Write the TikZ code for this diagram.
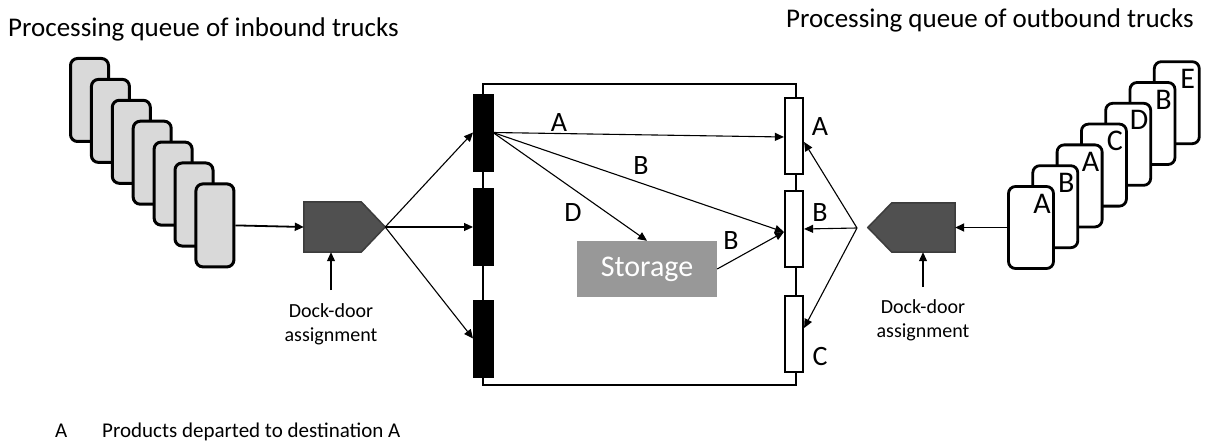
\documentclass[tikz,border=0pt]{standalone}
\usepackage{fontspec}
\setmainfont{Carlito}
\usetikzlibrary{arrows.meta,calc}
\definecolor{inTruck}{HTML}{D9D9D9}
\definecolor{pentFill}{HTML}{505050}
\definecolor{pentDraw}{HTML}{3C3C3C}
\definecolor{storeFill}{HTML}{989898}
\begin{document}
\begin{tikzpicture}[x=1pt,y=-1pt,
  intruck/.style={draw, line width=3pt, fill=inTruck, rounded corners=7pt, minimum width=38pt, minimum height=83pt, inner sep=0pt},
  outtruck/.style={draw, line width=2.8pt, fill=white, rounded corners=7pt, minimum width=45pt, minimum height=82pt, inner sep=0pt},
  indoor/.style={draw, fill=black, line width=0.5pt, minimum width=19.5pt, minimum height=77pt, inner sep=0pt},
  outdoor/.style={draw, fill=white, line width=2.2pt, minimum width=18pt, minimum height=76pt, inner sep=0pt},
  pentbox/.style={minimum width=81pt, minimum height=50pt, inner sep=0pt},
  pent/.style={fill=pentFill, draw=pentDraw, line width=1.5pt, line join=miter},
  lbl/.style={font=\fontsize{28}{33}\selectfont, inner sep=0pt},
  trucklbl/.style={font=\fontsize{30}{36}\selectfont, inner sep=0pt},
  title/.style={font=\fontsize{27}{32}\selectfont, inner sep=0pt},
  small/.style={font=\fontsize{20}{24}\selectfont, inner sep=0pt, align=center},
  legend/.style={font=\fontsize{21}{25}\selectfont, inner sep=0pt},
  arr/.style={-{Triangle[length=9pt,width=8pt]}, line width=1.1pt},
  thickarr/.style={-{Triangle[length=9pt,width=8pt]}, line width=1.8pt}
]
\useasboundingbox (0,0) rectangle (1205,441);

% titles
\node[title, anchor=base west] (tin) at (8,37) {Processing queue of inbound trucks};
\node[title, anchor=base east] (tout) at (1194,28) {Processing queue of outbound trucks};

% inbound trucks
\foreach \i in {0,...,6} {
  \node[intruck] (it\i) at ({89.5+20.9*\i},{100+20.9*\i}) {};
}

% inbound pentagon
\node[pentbox] (ip) at (344.5,227) {};
\draw[pent] (ip.north west) -- ($(ip.north east)+(-24,0)$) -- (ip.east) -- ($(ip.south east)+(-24,0)$) -- (ip.south west) -- cycle;
\draw[thickarr] (it6.east) -- (ip.west);

\node[small, anchor=north] (dd1) at (331,303) {Dock-door\\assignment};
\draw[arr] ([yshift=13pt]dd1.north) -- (dd1.north |- ip.south);

% frame
\node[draw, line width=1.8pt, minimum width=313pt, minimum height=301pt, inner sep=0pt] (frame) at (639.5,234.5) {};

% doors
\node[indoor] (d1) at (483,132.5) {};
\node[indoor] (d2) at (483,227) {};
\node[indoor] (d3) at (483,338.5) {};
\node[outdoor] (r1) at (794,136) {};
\node[outdoor] (r2) at (794,229) {};
\node[outdoor] (r3) at (794,334) {};

\draw[arr] (ip.east) -- (d1.west);
\draw[arr] (ip.east) -- (d2.west);
\draw[arr] (ip.east) -- (d3.west);

% storage
\node[fill=storeFill, minimum width=140pt, minimum height=56pt, inner sep=0pt, text=white, font=\fontsize{30}{36}\selectfont] (st) at (647,269) {Storage};

% internal flows
\draw[arr] (d1.east) -- ([yshift=-1pt]r1.west);
\draw[arr] (d1.east) -- ([yshift=-3pt]r2.west);
\draw[arr] (d1.east) -- (st.north);
\draw[arr] (st.east) -- ([yshift=-3pt]r2.west);
\node[lbl] (la) at (559,123) {A};
\node[lbl] (lb1) at (641,166) {B};
\node[lbl] (ld) at (573,213) {D};
\node[lbl] (lb2) at (731,241) {B};

% outbound pentagon
\node[pentbox, minimum width=87pt, minimum height=49pt] (op) at (911.5,227.5) {};
\draw[pent] (op.west) -- ($(op.north west)+(24,0)$) -- (op.north east) -- (op.south east) -- ($(op.south west)+(24,0)$) -- cycle;

\coordinate (fan) at (857,228);
\draw[arr] (fan) -- ([yshift=-6pt]r1.east);
\draw[arr] (fan) -- (r2.east);
\draw[arr] (fan) -- ([yshift=6pt]r3.east);
\node[lbl] (ra) at (820,127) {A};
\node[lbl] (rb) at (820,213) {B};
\node[lbl] (rc) at (820,357) {C};

\node[small, anchor=north] (dd2) at (923,299) {Dock-door\\assignment};
\draw[arr] ([yshift=12pt]dd2.north) -- (dd2.north |- op.south);

% outbound trucks
\foreach \i/\l in {6/E,5/B,4/D,3/C,2/A,1/B,0/A} {
  \node[outtruck] (ot\i) at ({1031+24.3*\i},{227.5-20.8*\i}) {};
  \node[trucklbl] (otl\i) at ($(ot\i.center)+(11,-24)$) {\l};
}
\draw[thickarr] (ot0.west) -- (op.east);

% legend
\node[legend, anchor=base west] (lgA) at (55,437) {A};
\node[legend, anchor=base west] (lgT) at (102,437) {Products departed to destination A};
\end{tikzpicture}
\end{document}
